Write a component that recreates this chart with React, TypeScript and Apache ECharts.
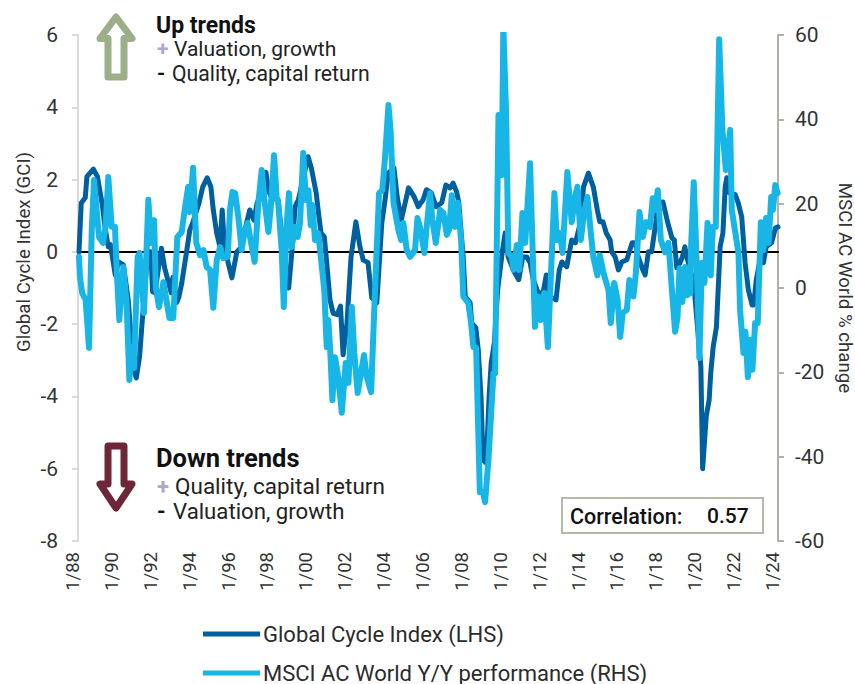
import React, { useEffect, useRef } from "react";
import * as echarts from "echarts";

const FONT = "Roboto, sans-serif";

const xTickLabels = ["1/88","1/90","1/92","1/94","1/96","1/98","1/00","1/02","1/04","1/06","1/08","1/10","1/12","1/14","1/16","1/18","1/20","1/22","1/24"];

// Months since 1/88 and Global Cycle Index values (left axis)
const gciMonths = [0.6,2,4.5,5.5,9.5,12,15,16.6,18.7,20,23,25,28,31,33,34,36,38,40,43,45,46,47.5,49.5,51.5,53.5,57.5,58.6,61,62.3,64,67,69,71,74.7,77,79.7,82,83.5,85.6,87.6,89,90,92.6,95,98,101,103,106,108.6,110.5,113,116,117.5,119.5,123.5,125,128,130,132,134,136,142,144,147,148.7,150,152,153.5,155.5,157.5,160,162,163.6,166,168.5,171.5,174,176,179,181.3,184.4,187.5,189.5,191.5,195,197,199.5,204,207.5,210,213,215,218,221,224.5,227,229.6,231.5,233.7,235,237.7,239,242,243,245.5,247,248.7,250,252,253.7,255,257,259,262,263.6,265.5,268.6,272,274.5,277,279,281,284,287,289,291,295,297,298.6,301.6,304.7,307,310,312,315,318,320.5,322,324,326,328.4,329.4,331.5,333.5,335.6,338.7,342,344,345.7,348.6,350,352,354,356.8,358,361,364,366.5,368,369.5,371.6,373,374.5,375.7,380,384.4,385.5,387.7,389.5,390.5,392,394,396.3,398,399.4,400.4,402,405.6,407.5,409.6,411.7,413.7,416,417,418.6,420.6,423,424.7,428,430.4,432];
const gciValues = [0,1.35,1.5,2.08,2.29,2.08,1.3,0.7,0.14,0.2,-0.64,-0.28,-0.36,-1.33,-2.52,-3.2,-3.49,-2.9,-1.7,0,0,-1.1,-1.13,-0.5,0.1,-0.45,-1.13,-0.7,-1.4,-1.24,-0.87,0,0.6,0.83,1.35,1.8,2.05,1.8,1.16,0.52,0.14,1.16,0.42,-0.3,-0.72,0,0.14,0.6,1.16,0.88,1.35,1.63,2.2,1.7,1.5,1.44,0.8,-0.5,-1,0,1.25,1.44,2.63,2.32,1.63,0.97,0.52,0.42,-0.3,-1.33,-1.7,-1.74,-1.5,-2.85,-1.97,-0.14,0.83,0.14,-0.22,-0.3,-1.27,-1.41,0.8,1.44,2.18,2.32,1.52,0.88,1.77,1.52,1.25,1.44,1.72,1.63,1.25,1.36,1.85,1.77,1.9,1.66,1.36,-0.14,-1.24,-1.41,-1.97,-2.1,-2.7,-4,-5.76,-5.85,-4,-3.07,-2.5,-1.05,0.05,0.52,-0.14,-0.5,-0.77,-0.14,-0.14,-0.3,-0.77,-1.14,-1.14,-0.64,-1.23,-1.33,-0.5,-0.28,-0.41,0.33,0.25,0.8,1.8,2.18,1.8,1.16,0.83,0.83,0.52,0.33,0,-0.14,-0.5,-0.28,-0.22,0.25,0.25,-0.14,-0.5,-0.64,0,0,0.88,1.35,1.38,0.8,0.39,0.33,-0.44,-0.3,-0.14,0.14,-0.14,-0.86,-3.18,-6,-4.56,-4.1,-3.35,-2.63,-2.08,0.14,0.52,1.8,2.05,1.63,1.58,1.35,0.97,-0.3,-1.05,-1.47,-1.47,-0.77,-0.3,-0.3,0.14,0.25,0.66,0.69];

// Months since 1/88 and MSCI AC World Y/Y values (right axis)
const msciMonths = [0.6,1.2,2.6,4.7,6.8,8.5,9.9,11.5,13,15.4,17,18.7,20.8,22.8,23.9,25.5,28,30,31.7,33,34.6,36.8,38,40.7,42,43.4,45,47,48,50,52.7,56.4,58.8,61.3,64,66,68,69,71,73,75.3,77.4,79.4,81.5,83.5,85.6,87.7,89.7,92.4,93.8,95.3,97,99,101,103,104.7,106.8,109,111.3,113.4,115.4,117.5,119,121,122.6,123.6,125.7,127,128.8,130.2,131.9,134,135.6,137,139,140.6,142.2,143.6,144.6,146.3,148.3,149.4,152,153.5,154.5,155.6,157,158.6,160.3,162.8,165.2,166.9,169,170.5,172.6,176.5,178.2,180.9,183.3,185.8,187.8,189.5,191.6,193,194.7,197.7,199.4,200.8,202.9,205,208,209.5,211,213.8,215.2,217.3,218.7,220.8,223.5,225.5,227.6,229,230.7,232.7,234.4,236.4,237.8,240.9,242.5,244,245.7,248,250,251.2,253.3,256.4,257.4,259.5,261.5,262.5,264.2,265.6,267.7,268.7,270.8,272.4,274.3,276,279,282,284.1,285.6,287.7,290,294,295.5,297.5,299,302,304.7,306.8,308.2,310.3,312.3,314.4,316.5,318,320.5,322,324.3,327.4,328.8,330.9,333,334.6,336.2,338.7,340.3,342.8,344.3,346.5,348.6,350.6,353,354.7,356,357.8,359.7,362.3,364.4,366.4,368.5,370,371.2,373,374.7,376,377.8,378.4,380,381.5,383.5,385,386.6,388.5,390.5,391.8,393.6,395.7,397.7,399.8,402.5,403.5,407.6,408.6,410.7,411.9,413.4,414.8,416.2,417.9,419.5,421.4,423,424.7,426.2,427.8,428.9,430.3,431.8];
const msciValues = [7.4,2.6,-1.2,-2.8,-14.2,13.8,25.6,18.5,12.1,10.7,14.5,26.3,14.5,14.5,4.3,-7.6,5,-3.6,-21.8,-14,-19,7.4,8.3,-5.9,5.9,20.9,10.7,16.1,0.2,-4.5,1.4,-7.1,-7.1,12.1,13.3,19,24,18,28.5,10.7,7.8,9,5,4.3,-4.7,6.6,9.7,7.1,7.4,18.5,22.8,22.5,16.6,9,13.8,15.4,10.7,6.2,20.2,28,19.7,13.3,19.2,31.5,21.6,20,9,-4.5,15.4,22.5,9.7,14.5,12.1,15.4,32,20.9,23.2,14.9,19.7,11.4,13,9,-0.5,-14,-7.6,-14.2,-26.6,-16.4,-20.2,-29.6,-17.8,-22.5,-4.5,-15.4,-24.9,-15.9,-21.1,-24.7,-0.5,22.5,23.2,31,43.4,36.8,20.2,13.8,11.4,15.4,9,7.4,9,16.6,14.5,8.3,14.5,22.5,16.1,10.7,18.5,17.8,12.6,13.8,22,14.5,20.2,11.4,-2,-3.6,-8,-14,-14.2,-48.4,-48.4,-50.8,-40.8,-20.2,-20.2,41,26.8,62,41.5,8.3,7.4,4.3,10.2,4.3,17.8,10.7,29.6,-9.2,-2,-7.6,-1.2,-14,22.5,11.4,13,8.3,27.5,15.6,21.6,24,11.4,17.8,21.6,13,7.4,3,7.8,3.6,-0.5,-8.3,1.2,-2.8,-11.6,-5.9,-5.2,1.9,-2,3.6,18,12.1,15.6,14.5,21.3,18.5,23.2,11.4,8.5,10.7,0.2,-10.4,-6.9,4.7,-3.3,5,-1.7,-1.2,10.2,25.1,9.7,-16.6,5.9,1.2,15.4,3,14.5,14.5,59,37.5,28,37.5,18.5,8.3,-5.2,-15.4,-10.4,-21.1,-12.3,-19.4,-8.3,-8.3,15.6,9,16.6,10.7,21.6,18.5,24.4,22.5];

const gciName = "Global Cycle Index (LHS)";
const msciName = "MSCI AC World Y/Y performance (RHS)";
const zip = (a: number[], b: number[]) => a.map((m, i) => [m, b[i]]);

const TEXT = "#222";
const text = (x: number, y: number, t: string, size: number, extra: any = {}) => ({
  type: "text", x, y, silent: true,
  style: { text: t, fontFamily: FONT, fontSize: size, fill: TEXT, textVerticalAlign: "middle", verticalAlign: "middle", ...extra },
});

const legendBase = {
  orient: "horizontal", left: 203, padding: 0, itemWidth: 57, itemHeight: 5, icon: "rect",
  selectedMode: false,
  textStyle: { fontFamily: FONT, fontSize: 22, color: "#2b2b2b", padding: [0, 0, 0, -2] },
};

export default function App() {
  const ref = useRef<HTMLDivElement>(null);
  useEffect(() => {
    const chart = echarts.init(ref.current!, undefined, { renderer: "svg" });
    chart.setOption({
      animation: false,
      backgroundColor: "#fff",
      textStyle: { fontFamily: FONT },
      grid: { left: 78, right: 77, top: 35, bottom: 143, outerBoundsMode: "none" },
      legend: [
        { ...legendBase, top: 623, data: [gciName] },
        { ...legendBase, top: 662, data: [msciName] },
      ],
      xAxis: [
        {
          type: "value", min: 0, max: 432, interval: 24,
          position: "bottom",
          axisLine: { show: false }, axisTick: { show: false }, splitLine: { show: false },
          axisLabel: {
            rotate: 90, fontFamily: FONT, fontSize: 18.5, color: "#333", margin: 11,
            verticalAlign: "bottom", lineHeight: 10,
            hideOverlap: false, showMinLabel: true, showMaxLabel: true,
            formatter: (v: number) => xTickLabels[v / 24],
          },
        },
        {
          type: "value", min: 0, max: 432, position: "top",
          axisLine: { show: true, onZero: true, onZeroAxisIndex: 0, lineStyle: { color: "#000", width: 2 } },
          axisTick: { show: false }, axisLabel: { show: false }, splitLine: { show: false },
        },
      ],
      yAxis: [
        {
          type: "value", min: -8, max: 6, interval: 2, position: "left",
          axisLine: { show: true, onZero: false, lineStyle: { color: "#cfcfcf", width: 1.5 } },
          axisTick: { show: true, length: 6, lineStyle: { color: "#cfcfcf", width: 1.5 } },
          splitLine: { show: false },
          axisLabel: { fontFamily: FONT, fontSize: 21, color: "#333", margin: 20 },
        },
        {
          type: "value", min: -60, max: 60, interval: 20, position: "right",
          axisLine: { show: true, onZero: false, lineStyle: { color: "#b2b1a6", width: 2 } },
          axisTick: { show: true, length: 6, lineStyle: { color: "#b2b1a6", width: 2 } },
          splitLine: { show: false },
          axisLabel: { fontFamily: FONT, fontSize: 21, color: "#333", margin: 17 },
          name: "MSCI AC World % change", nameLocation: "middle", nameRotate: -90, nameGap: 56,
          nameTextStyle: { fontFamily: FONT, fontSize: 18.7, color: "#333" },
        },
      ],
      series: [
        {
          name: gciName, type: "line", xAxisIndex: 0, yAxisIndex: 0, symbol: "none", z: 2,
          color: "#005f9e", data: zip(gciMonths, gciValues),
          lineStyle: { color: "#005f9e", width: 5, join: "round", cap: "round" },
        },
        {
          name: msciName, type: "line", xAxisIndex: 0, yAxisIndex: 1, symbol: "none", z: 3,
          color: "#18b6e6", data: zip(msciMonths, msciValues),
          lineStyle: { color: "#18b6e6", width: 6, join: "round", cap: "round" },
        },
      ],
      graphic: [
        {
          type: "polygon", silent: true, z: 10,
          shape: { points: [[116, 17], [132, 38.5], [124, 38.5], [124, 77], [108, 77], [108, 38.5], [100, 38.5]] },
          style: { fill: "#fff", stroke: "#9caf88", lineWidth: 7, lineJoin: "round" },
        },
        {
          type: "polygon", silent: true, z: 10,
          shape: { points: [[108, 446], [124, 446], [124, 484], [132, 484], [116, 508], [100, 484], [108, 484]] },
          style: { fill: "#fff", stroke: "#6e2639", lineWidth: 7, lineJoin: "round" },
        },
        { ...text(156, 25, "Up trends", 23, { fontWeight: 700, fill: "#111" }), z: 11 },
        { ...text(157, 49, "+", 21, { fill: "#aca6cf", fontWeight: 700 }), z: 11 },
        { ...text(174, 49, "Valuation, growth", 21), z: 11 },
        { ...text(157, 73, "-", 21, { fill: "#111", fontWeight: 700 }), z: 11 },
        { ...text(172, 73, "Quality, capital return", 21.2), z: 11 },
        { ...text(156, 458, "Down trends", 25.5, { fontWeight: 700, fill: "#111" }), z: 11 },
        { ...text(157, 486, "+", 22, { fill: "#aca6cf", fontWeight: 700 }), z: 11 },
        { ...text(175, 486, "Quality, capital return", 22.5), z: 11 },
        { ...text(157, 511, "-", 22, { fill: "#111", fontWeight: 700 }), z: 11 },
        { ...text(173, 511, "Valuation, growth", 22.2), z: 11 },
        {
          type: "rect", silent: true, z: 10,
          shape: { x: 562, y: 498, width: 201, height: 35 },
          style: { fill: "#fff", stroke: "#b7b7ad", lineWidth: 2 },
        },
        { ...text(570, 516, "Correlation:", 21.5, { fontWeight: 500, fill: "#111" }), z: 11 },
        { ...text(707, 516, "0.57", 21, { fontWeight: 500, fill: "#111" }), z: 11 },
        {
          type: "text", silent: true, z: 11, x: 24, y: 252, rotation: Math.PI / 2,
          style: { text: "Global Cycle Index (GCI)", fontFamily: FONT, fontSize: 18.7, fill: "#333", textAlign: "center", textVerticalAlign: "middle", verticalAlign: "middle" },
        },
      ],
    });
    return () => chart.dispose();
  }, []);
  return <div ref={ref} style={{ position: "absolute", left: 0, top: 0, width: 855, height: 684 }} />;
}
